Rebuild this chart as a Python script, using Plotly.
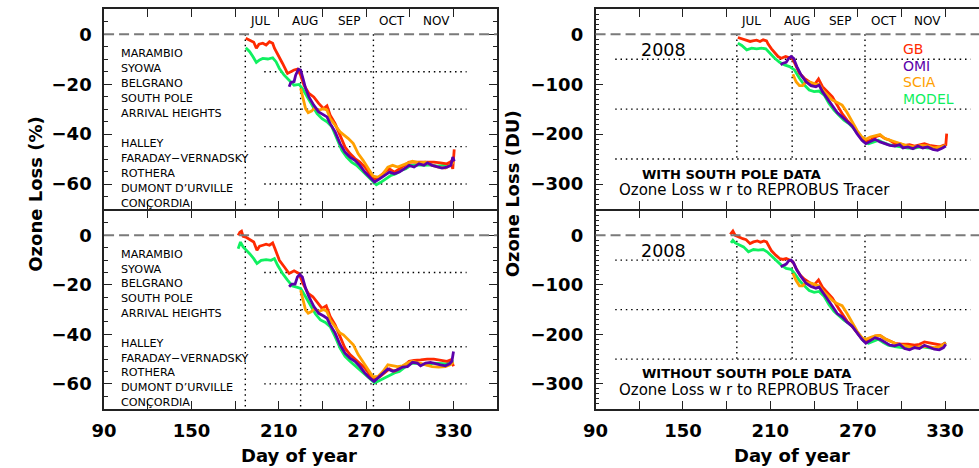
import plotly.graph_objects as go

# ---------------- DATA ----------------
# Top-left: ozone loss (%) WITH South Pole data
tl_gb_day = [187.3,190,192.8,194.6,196.4,199,201.3,203.6,205.8,207,210.4,212.6,216,218.3,220.5,222.8,225,227.3,230.7,234,237.4,240.8,243.1,245.3,248.7,252.1,255.5,258.9,262.3,265.7,269.1,272.4,275.8,279.2,282.6,286,289.4,292.8,296.1,299.5,302.9,307.4,311.9,316.5,321,325.5,327.7,329.5,330.5]
tl_gb_val = [-1.6,-2.3,-3.2,-5.6,-4.0,-3.6,-4.3,-3.0,-3.6,-5.6,-9.7,-11.7,-15.7,-15.0,-14.3,-14.0,-16.4,-20.4,-23.7,-25.1,-27.7,-29.8,-28.7,-32.4,-35.8,-40.5,-45.2,-47.8,-49.8,-51.2,-53.2,-55.9,-58.2,-57.2,-55.2,-53.9,-55.2,-53.9,-52.5,-51.2,-51.2,-51.2,-50.9,-51.2,-51.5,-51.9,-51.2,-53.9,-46.1]
tl_model_day = [187.3,190,192.3,194.6,196.8,199,202.5,205.8,208.1,210.4,213.7,217.1,220.5,223.9,226.2,229.5,232.9,236.3,239.7,243.1,246.5,249.9,253.3,256.6,260,263.4,266.8,270.2,273.6,277,280.3,283.7,287.1,290.5,293.9,297.3,300.7,305.2,309.7,314.2,318.7,323.2,326.6,330]
tl_model_val = [-5.4,-7,-9,-11.3,-10.3,-9.7,-9.9,-9.4,-11,-13.7,-16.4,-18.4,-20.4,-20.1,-21.7,-25.1,-28.4,-31.8,-33.8,-35.1,-37.1,-41.8,-46.5,-49.2,-51.2,-52.5,-54.5,-56.5,-58.6,-60.3,-59.2,-57.9,-56.5,-55.9,-54.5,-53.9,-52.5,-52.3,-52.5,-52.3,-52.8,-52.5,-52.3,-51.5]
tl_omi_day = [217.1,218.3,220.5,221.6,223.5,225,226.6,228.4,230.7,234,237.4,240.8,243.1,245.3,248.7,252.1,255.5,258.9,262.3,265.7,269.1,272.4,275.8,279.2,282.6,286,289.4,292.8,296.1,299.5,302.9,306.3,309.7,312,315.3,318.7,322.1,325.5,328.2,329.5,330.5]
tl_omi_val = [-21.0,-19.3,-19.0,-16.4,-14,-14.3,-17.7,-21.7,-25.1,-28.4,-31.1,-32.2,-33.1,-35.8,-39.1,-43.8,-47.2,-49.2,-50.5,-52.5,-55.2,-57.2,-59.2,-57.9,-56.5,-55.2,-55.9,-55.2,-53.9,-52.5,-53.2,-51.9,-52.5,-51.5,-52.5,-53.2,-53.6,-53.2,-52.5,-49.2,-50.9]
tl_scia_day = [225,226.6,228.4,230.2,232.5,234.7,237.4,240.8,243.1,245.3,248.7,252.1,254.4,257.8,261.2,264.5,267.9,271.3,274.7,278.1,281.5,284.9,288.2,291.6,295,298.4,301.8,306.3,310.8,315.3,319.8,324.4,327.7,330]
tl_scia_val = [-21.7,-25.1,-29.8,-31.4,-30.8,-29.5,-30.4,-29.8,-30.4,-33.8,-36.5,-39.1,-40.2,-41.8,-43.8,-47.8,-50.5,-53.9,-56.8,-57.2,-55.9,-53.2,-52.5,-53.2,-52.5,-51.5,-50.9,-51.5,-51.2,-52.5,-53.2,-53.6,-52.5,-51.2]

# Top-right: ozone loss (DU) WITH South Pole data
tr_gb_day = [187.7,190.4,192.7,196.1,197.9,200.6,202.9,205.1,207.4,208.5,210.8,213,215.3,217.5,220.5,222.7,225,227.3,230,233.4,236.7,240.1,243.1,245.8,249.2,252.6,255.9,259.3,262.7,266.1,269.5,272.4,275.1,278.5,281.9,285.3,288.7,292.1,295.5,298.8,302.2,305.6,309,312.4,315.8,319.2,322.6,326,328.9,330.5,331.1]
tr_gb_val = [-6.4,-9.1,-11.1,-14.4,-13.1,-11.8,-14.4,-11.1,-13.1,-19.8,-29.2,-37.9,-44.6,-48,-44.6,-46.6,-48,-61.4,-78.2,-88.2,-95,-101.7,-89.6,-105,-115,-125.2,-141.9,-158.7,-172.1,-182.2,-195.6,-209,-214.4,-212.4,-205.7,-202.3,-209,-212.4,-219.1,-219.1,-222.4,-221.1,-223.8,-221.1,-219.1,-222.4,-223.8,-225.8,-222.4,-221,-199]
tr_model_day = [187.7,190.4,193.8,197.2,200.6,204,206.9,209.6,213,216.4,219.8,223.2,226.6,230,233.4,236.7,240.1,243.5,247,250.3,253.7,257.1,260.5,263.9,267.3,270.7,274.1,277.4,280.8,284.2,287.6,291,295.5,300,304.5,309,313.5,318.1,322.6,327.1,330.5]
tr_model_val = [-17.8,-22.5,-31.2,-27.9,-29.2,-27.9,-29.2,-37.9,-48,-56,-61.4,-64.8,-71.5,-88.2,-101.7,-111.7,-115,-113.7,-121.8,-138.6,-152,-162.1,-172.1,-178.8,-188.9,-202.3,-214.4,-219.1,-215.7,-212.4,-217.1,-221.1,-223.8,-225.8,-227.8,-227.8,-225.8,-227.8,-227.8,-225.8,-222.4]
tr_omi_day = [217.1,218.7,220.9,222.7,224.3,225.9,228.2,231.1,234.5,237.9,241.3,243.5,245.8,249.2,252.6,255.9,259.3,262.7,266.1,269.5,272.9,275.6,278.5,281.9,285.3,288.7,292.1,295.5,298.8,301.1,304.5,307.9,311.3,314.7,318.1,321.5,324.8,328.2,330.5]
tr_omi_val = [-61.4,-58,-56,-48,-44.6,-48,-64.8,-81.5,-95,-103,-105,-101.7,-115,-128.5,-141.9,-156.7,-165.4,-175.4,-183.5,-199,-212.4,-219.1,-214.4,-210.4,-215.7,-219.1,-222.4,-223.8,-221.1,-227.8,-225.8,-229.2,-223.8,-227.8,-225.8,-230.5,-232.5,-227.8,-223.8]
tr_scia_day = [225.5,227.7,230,232.2,234.5,237.9,241.3,243.5,245.8,249.2,252.6,255.9,259.3,262.7,266.1,269.5,272.9,275.6,278.5,281.9,285.3,288.7,292.1,295.5,300,304.5,309,313.5,318.1,322.6,327.1,330.5]
tr_scia_val = [-80.2,-95,-103,-103,-95,-96.3,-100.3,-100.3,-111.7,-121.8,-131.9,-136.6,-141.9,-156.7,-175.5,-192.3,-205.7,-210.4,-205.7,-203.7,-201,-209,-212.4,-215.7,-219.1,-223.8,-225.8,-222.4,-223.8,-227.8,-225.8,-222.4]

# Bottom-left: ozone loss (%) WITHOUT South Pole data
bl_gb_day = [182.1,183.3,184.4,185.5,187.3,190,192.8,195,196.8,199.1,201.3,203.6,205.8,207.4,210.4,213.7,217.1,220.5,223.9,226.6,230.2,233.4,236.3,239.7,242.6,245.3,248.7,252.1,255.5,258.9,262.3,265.7,269.1,272.4,275.8,279.2,282.6,286,289.4,292.8,296.1,299.5,302.9,307.4,311.9,316.5,321,325.5,328.2,330]
bl_gb_val = [0,1.3,1.7,-0.4,-0.7,-1.7,-2.7,-6.0,-4.4,-4.0,-3.6,-4.0,-3.1,-5.4,-10.1,-12.7,-15.4,-14.3,-15.4,-19.4,-23.5,-24.8,-27.2,-29.5,-28.5,-32.8,-36.2,-40.9,-45.6,-48.2,-50,-51.6,-53.6,-56.3,-58.3,-57.2,-55.6,-54,-54.9,-53.6,-52.7,-50.9,-50.5,-50.3,-50,-50,-50.3,-50.9,-50.3,-52.9]
bl_model_day = [182.1,183.7,185.5,187.8,190,192.8,195,197.9,201.3,204.7,207,209.2,212.6,216,219.4,222.8,225,228.4,231.8,235.2,238.6,242,245.3,248.7,252.1,255.5,258.9,262.3,265.7,269.1,272.4,275.8,279.2,282.6,286,289.4,292.8,296.1,299.5,302.9,307.4,311.9,316.5,321,325.5,328.2,330]
bl_model_val = [-5.4,-2.7,-4.7,-6.0,-7.4,-9.4,-11.4,-10.1,-9.8,-10.1,-9.4,-12.1,-15.4,-18.1,-20.5,-21,-21.4,-24.8,-28.1,-31.8,-34.2,-35.2,-36.9,-40.9,-45.6,-48.9,-50.9,-52.7,-54.3,-56.3,-58,-59.6,-58.6,-57.6,-56.3,-55.6,-55,-53.6,-51.9,-51.6,-51.9,-52.3,-51.6,-51.6,-51.9,-50.9,-50.9]
bl_omi_day = [217.1,218.9,221.2,222.8,224.4,226.2,228.4,230.7,234.1,237.4,240.8,243.1,245.3,248.7,252.1,255.5,258.9,262.3,265.7,269.1,272.4,275.4,278.1,281.5,284.9,288.2,291.6,295,298.4,301.8,305.2,307.4,310.8,314.2,317.6,321,324.4,327.3,328.9,330]
bl_omi_val = [-20.8,-19.7,-19.7,-16.8,-15.8,-16.8,-21.4,-24.8,-28.8,-31.5,-32.6,-33.5,-36.2,-39.5,-44.2,-47.6,-49.6,-50.9,-53,-55.6,-57.6,-59,-57.6,-55.6,-54,-54.9,-54.3,-53.2,-53,-51.3,-51.6,-52.7,-51.6,-51.3,-51.9,-52.3,-52.7,-51.9,-50.9,-46.9]
bl_scia_day = [225,226.6,228.4,230.2,232.5,234.7,237.4,240.8,243.1,245.3,248.7,252.1,254.4,257.8,261.2,264.5,267.9,271.3,274.7,278.1,281.5,284.9,288.2,291.6,295,298.4,301.8,306.3,310.8,315.3,319.8,324.4,327.7,330]
bl_scia_val = [-22.1,-26.1,-30.2,-31.5,-30.8,-29.5,-30.8,-29.9,-30.8,-34.2,-36.9,-39.5,-40.2,-42.2,-44.2,-48.2,-51.3,-54.3,-57.2,-57,-55,-52.3,-52.7,-53,-52.7,-51.6,-50.9,-51.6,-52.3,-53,-53.2,-53,-52.3,-51.3]

# Bottom-right: ozone loss (DU) WITHOUT South Pole data
br_gb_day = [182.5,184.3,185.9,188.2,191.1,193.4,196.1,198.4,201.1,203.3,205.6,207.4,209,210.8,213.7,216.4,218.7,220.9,223.2,225.5,227.7,230.4,233.4,236.7,240.1,243.1,245.8,249.2,252.6,255.9,259.3,262.7,266.1,269.5,272.4,275.1,278.5,281.9,285.3,288.7,292.1,295.5,300,304.5,309,312.4,315.8,320.3,324.8,327.5,330.5]
br_gb_val = [2,8.7,0,-3.3,-6.7,-8.7,-16.7,-13.3,-11.3,-14,-11.3,-13.3,-22,-31.3,-40,-46.7,-48.7,-46.7,-50,-53.3,-66.7,-80,-88.7,-95.3,-100,-90,-104.7,-115.3,-126.7,-143.3,-158,-173.3,-183.3,-195.3,-206.7,-213.3,-210,-203.3,-202,-208.7,-213.3,-218,-220,-220,-222,-220,-215.3,-218,-220,-222,-216.7]
br_model_day = [183,184.3,185.9,188.9,191.6,195,198.4,201.7,205.1,207.8,210.8,214.2,217.5,220.9,224.3,226.6,230,233.4,236.7,240.1,243.5,246.9,250.3,253.7,257.1,260.5,263.8,267.2,270.6,274,277.4,280.8,284.2,287.6,290.9,295.5,300,304.5,309,313.5,318,322.6,326.6,330.5]
br_model_val = [-15.3,-10,-15.3,-20,-23.3,-33.3,-28.7,-30,-28.7,-33.3,-42,-51.3,-60,-66.7,-68.7,-76.7,-91.3,-102,-111.3,-115.3,-113.3,-123.3,-140,-153.3,-163.3,-171.3,-178,-186.7,-200,-213.3,-218,-213.3,-210,-216.7,-222,-224.7,-226.7,-228.7,-226.7,-224.7,-226.7,-228.7,-224.7,-216.7]
br_omi_day = [217.1,219.1,220.9,222.7,224.3,225.9,228.2,231.1,234.5,237.9,241.3,243.5,245.8,249.2,252.6,255.9,259.3,262.7,266.1,269.5,272.9,275.6,278.5,281.9,285.3,288.7,292.1,295.5,298.8,302.2,305.6,309,312.4,315.8,319.2,322.6,326,328.9,330.5]
br_omi_val = [-63.3,-60,-58,-51.3,-50,-55.3,-70,-83.3,-96.7,-103.3,-106.7,-104.7,-115.3,-128.7,-143.3,-158,-164.7,-175.3,-183.3,-196.7,-210,-218,-213.3,-206.7,-210,-216.7,-222,-223.3,-220,-228.7,-231.3,-226.7,-228.7,-222,-226.7,-230,-231.3,-226.7,-220]
br_scia_day = [225.5,227.7,230,232.2,234.5,237.9,241.3,243.5,245.8,249.2,252.6,255.9,259.3,262.7,266.1,269.5,272.9,275.6,278.5,281.9,285.3,288.7,292.1,295.5,300,304.5,309,313.5,318,322.6,326.6,330.5]
br_scia_val = [-76.7,-91.3,-102,-102,-95.3,-96.7,-100,-102,-111.3,-122,-131.3,-138,-142,-158,-176.7,-193.3,-206.7,-210,-206.7,-203.3,-202,-208.7,-213.3,-218,-222,-224.7,-226.7,-224.7,-224.7,-226.7,-224.7,-218]

# Labels
series_names = ["GB", "OMI", "SCIA", "MODEL"]
station_names = ["MARAMBIO", "SYOWA", "BELGRANO", "SOUTH POLE", "ARRIVAL HEIGHTS", "",
                 "HALLEY", "FARADAY\u2212VERNADSKY", "ROTHERA", "DUMONT D\u2019URVILLE", "CON\u00c7ORDIA"]
month_names = ["JUL", "AUG", "SEP", "OCT", "NOV"]
month_mid_day = [197, 228, 258, 288, 318]
marker_days = [187, 225, 275]
pct_levels = [-15, -30, -45, -60]
du_levels = [-50, -150, -250]
year_label = "2008"
panel_titles = ["WITH SOUTH POLE DATA", "WITHOUT SOUTH POLE DATA"]
subtitle = "Ozone Loss w r to REPROBUS Tracer"

# ---------------- STYLE ----------------
COLORS = {"GB": "#ff2a00", "OMI": "#5c00aa", "SCIA": "#ffa000", "MODEL": "#10f060"}
FONT = "DejaVu Sans"
W, H = 979, 468
LW = 1.6

def px2paper_x(p):
    return p / W

def px2paper_y(p):
    return 1 - p / H

top_dom = [px2paper_y(209.0), px2paper_y(9.3)]
bot_dom = [px2paper_y(408.6), px2paper_y(209.0 + LW)]
left_dom = [px2paper_x(92.3), px2paper_x(490.7)]
right_dom = [px2paper_x(590.4), 1.0]
right_xmax = 90 + (W - 590.4) / 1.476

fig = go.Figure()

panels = {
    "tl": ("x", "y", {"MODEL": (tl_model_day, tl_model_val), "GB": (tl_gb_day, tl_gb_val),
                      "SCIA": (tl_scia_day, tl_scia_val), "OMI": (tl_omi_day, tl_omi_val)}),
    "tr": ("x2", "y2", {"MODEL": (tr_model_day, tr_model_val), "GB": (tr_gb_day, tr_gb_val),
                        "SCIA": (tr_scia_day, tr_scia_val), "OMI": (tr_omi_day, tr_omi_val)}),
    "bl": ("x3", "y3", {"MODEL": (bl_model_day, bl_model_val), "GB": (bl_gb_day, bl_gb_val),
                        "SCIA": (bl_scia_day, bl_scia_val), "OMI": (bl_omi_day, bl_omi_val)}),
    "br": ("x4", "y4", {"MODEL": (br_model_day, br_model_val), "GB": (br_gb_day, br_gb_val),
                        "SCIA": (br_scia_day, br_scia_val), "OMI": (br_omi_day, br_omi_val)}),
}

for key, (xa, ya, sdict) in panels.items():
    for name, (d, v) in sdict.items():
        fig.add_trace(go.Scatter(x=d, y=v, mode="lines", xaxis=xa, yaxis=ya, name=name,
                                 line=dict(color=COLORS[name], width=2.8), showlegend=False,
                                 hoverinfo="skip"))

AX_COLOR = "#222222"

def xaxis_cfg(domain, anchor, rng, labels):
    return dict(domain=domain, anchor=anchor, range=rng, showgrid=False, zeroline=False,
                showline=True, linecolor=AX_COLOR, linewidth=LW, mirror="allticks",
                ticks="inside", ticklen=8, tickwidth=1.2, tickcolor=AX_COLOR,
                tick0=90, dtick=60, showticklabels=labels, ticklabelstandoff=5,
                tickfont=dict(family=FONT, size=18, color="black", weight="bold"),
                minor=dict(dtick=30, tick0=90, ticks="inside", ticklen=8, tickwidth=1.2,
                           tickcolor=AX_COLOR, showgrid=False))

def yaxis_cfg(domain, anchor, rng, dtick, mdtick, mirror):
    return dict(domain=domain, anchor=anchor, range=rng, showgrid=False, zeroline=False,
                showline=True, linecolor=AX_COLOR, linewidth=LW, mirror=mirror,
                ticks="inside", ticklen=8, tickwidth=1.2, tickcolor=AX_COLOR,
                tick0=0, dtick=dtick, ticklabelstandoff=7,
                tickfont=dict(family=FONT, size=18, color="black", weight="bold"),
                minor=dict(dtick=mdtick, tick0=0, ticks="inside", ticklen=4, tickwidth=1,
                           tickcolor=AX_COLOR, showgrid=False))

fig.update_layout(
    width=W, height=H, margin=dict(l=0, r=0, t=0, b=0),
    paper_bgcolor="white", plot_bgcolor="white", showlegend=False,
    xaxis=xaxis_cfg(left_dom, "y", [90, 360], False),
    yaxis=yaxis_cfg(top_dom, "x", [-70, 10], 20, 5, "allticks"),
    xaxis2=xaxis_cfg(right_dom, "y2", [90, right_xmax], False),
    yaxis2=yaxis_cfg(top_dom, "x2", [-350, 50], 100, 10, False),
    xaxis3=xaxis_cfg(left_dom, "y3", [90, 360], True),
    yaxis3=yaxis_cfg(bot_dom, "x3", [-70, 10], 20, 5, "allticks"),
    xaxis4=xaxis_cfg(right_dom, "y4", [90, right_xmax], True),
    yaxis4=yaxis_cfg(bot_dom, "x4", [-350, 50], 100, 10, False),
)

shapes = []
annotations = []
DOT = dict(color="black", width=1.4, dash="1.5px,3.8px")

for key, (xa, ya, _) in panels.items():
    is_left = key in ("tl", "bl")
    shapes.append(dict(type="line", xref=f"{xa} domain", yref=ya, x0=0, x1=1, y0=0, y1=0,
                       line=dict(color="#7a7a7a", width=2, dash="10px,5px"), layer="above"))
    ybottom = -70 if is_left else du_levels[-1]
    for d in marker_days:
        shapes.append(dict(type="line", xref=xa, yref=ya, x0=d, x1=d, y0=0, y1=ybottom,
                           line=DOT, layer="below"))
    if is_left:
        for lv in pct_levels:
            shapes.append(dict(type="line", xref=xa, yref=ya, x0=200, x1=339, y0=lv, y1=lv,
                               line=DOT, layer="below"))
        for i, s in enumerate(station_names):
            if s:
                annotations.append(dict(xref=xa, yref=ya, x=100, y=-7.6 - 6 * i, text=s,
                                        showarrow=False, xanchor="left", yanchor="middle",
                                        font=dict(family=FONT, size=11.2, color="black")))
    else:
        for lv in du_levels:
            shapes.append(dict(type="line", xref=xa, yref=ya, x0=103.5, x1=347.5, y0=lv, y1=lv,
                               line=DOT, layer="below"))
        annotations.append(dict(xref=xa, yref=ya, x=120, y=-31.5, text=year_label,
                                showarrow=False, xanchor="left", yanchor="middle",
                                font=dict(family=FONT, size=17.5, color="black")))
        title = panel_titles[0] if key == "tr" else panel_titles[1]
        annotations.append(dict(xref=xa, yref=ya, x=120.5, y=-280, text=title,
                                showarrow=False, xanchor="left", yanchor="middle",
                                font=dict(family=FONT, size=13, color="black", weight="bold")))
        annotations.append(dict(xref=xa, yref=ya, x=105, y=-312, text=subtitle,
                                showarrow=False, xanchor="left", yanchor="middle",
                                font=dict(family=FONT, size=15, color="black")))
    if key in ("tl", "tr"):
        ym = 5.2 if is_left else 26
        for m, d in zip(month_names, month_mid_day):
            annotations.append(dict(xref=xa, yref=ya, x=d, y=ym, text=m, showarrow=False,
                                    xanchor="center", yanchor="middle",
                                    font=dict(family=FONT, size=12, color="black")))

# legend text in top-right panel
for i, n in enumerate(series_names):
    annotations.append(dict(xref="x2", yref="y2", x=299.5, y=-30.5 - 33 * i, text=n,
                            showarrow=False, xanchor="left", yanchor="middle",
                            font=dict(family=FONT, size=14, color=COLORS[n])))

TFONT = dict(family=FONT, size=18, color="black", weight="bold")
annotations.append(dict(xref="paper", yref="paper", x=px2paper_x(22), y=px2paper_y(194),
                        text="Ozone Loss (%)", textangle=-90, showarrow=False,
                        xanchor="center", yanchor="middle", font=TFONT))
annotations.append(dict(xref="paper", yref="paper", x=px2paper_x(506), y=px2paper_y(194),
                        text="Ozone Loss (DU)", textangle=-90, showarrow=False,
                        xanchor="center", yanchor="middle", font=TFONT))
annotations.append(dict(xref="paper", yref="paper", x=px2paper_x(290), y=px2paper_y(455),
                        text="Day of year", showarrow=False, xanchor="center",
                        yanchor="middle", font=TFONT))
annotations.append(dict(xref="paper", yref="paper", x=px2paper_x(789), y=px2paper_y(455),
                        text="Day of year", showarrow=False, xanchor="center",
                        yanchor="middle", font=TFONT))

fig.update_layout(shapes=shapes, annotations=annotations)
fig.write_html("out.html", config={"displayModeBar": False},
               post_script="document.body.style.margin='0';document.body.style.padding='0';"
                           "document.body.style.overflow='hidden';")
